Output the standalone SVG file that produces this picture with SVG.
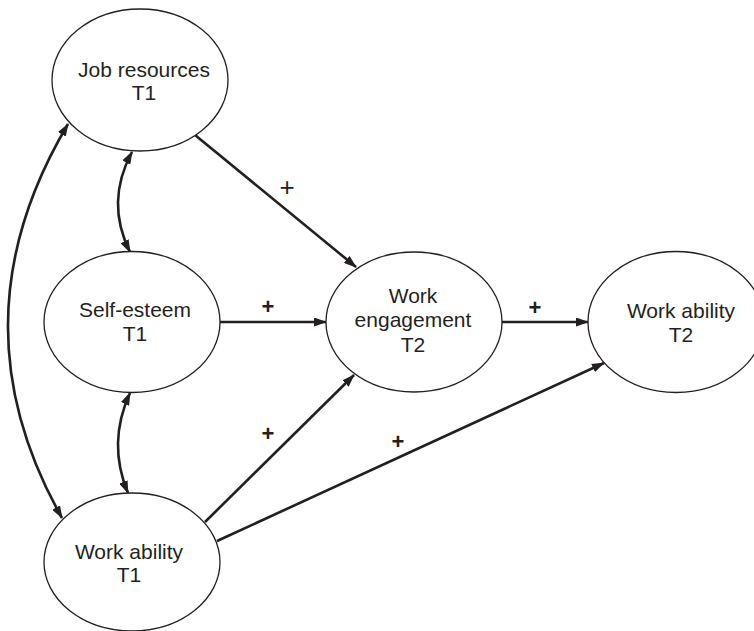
<svg xmlns="http://www.w3.org/2000/svg" width="754" height="631" viewBox="0 0 754 631">
<style>
.node ellipse{fill:#fff;stroke:#231f20;stroke-width:1.3}
.node text{font-family:"Liberation Sans",Arial,sans-serif;font-size:21px;fill:#231f20;text-anchor:middle}
.edge{fill:none;stroke:#231f20;stroke-width:2.6}
.lbl{font-family:"Liberation Sans",Arial,sans-serif;font-size:22px;fill:#231f20;text-anchor:middle;font-weight:bold}
</style>
<defs>
<marker id="ah" viewBox="0 0 13 9" refX="12" refY="4.5" markerWidth="13" markerHeight="9" markerUnits="userSpaceOnUse" orient="auto-start-reverse">
<path d="M0,0 L13,4.5 L0,9 z" fill="#231f20"/>
</marker>
</defs>
<g id="connectors">
<path class="edge" d="M195,135 L356,267" marker-end="url(#ah)"/>
<path class="edge" d="M220,322 L326,322" marker-end="url(#ah)"/>
<path class="edge" d="M502,322 L588,322" marker-end="url(#ah)"/>
<path class="edge" d="M205,522 L354,375" marker-end="url(#ah)"/>
<path class="edge" d="M217,541 L604,363" marker-end="url(#ah)"/>
<path class="edge" d="M132,152 Q105,202 130,252" marker-start="url(#ah)" marker-end="url(#ah)"/>
<path class="edge" d="M130,393 Q107,443 128,493" marker-start="url(#ah)" marker-end="url(#ah)"/>
<path class="edge" d="M68,124 Q-49,321 62,518" marker-start="url(#ah)" marker-end="url(#ah)"/>
<text class="lbl" x="287" y="196" style="font-weight:normal;font-size:26px">+</text>
<text class="lbl" x="268" y="314">+</text>
<text class="lbl" x="535" y="315">+</text>
<text class="lbl" x="268" y="441">+</text>
<text class="lbl" x="398" y="449">+</text>
</g>
<g id="job-resources" class="node">
<ellipse cx="140" cy="80" rx="88" ry="71"/>
<text x="144" y="77">Job resources</text>
<text x="144" y="100">T1</text>
</g>
<g id="self-esteem" class="node">
<ellipse cx="132" cy="322" rx="88" ry="70.5"/>
<text x="135" y="317">Self-esteem</text>
<text x="135" y="341">T1</text>
</g>
<g id="work-ability-t1" class="node">
<ellipse cx="132" cy="562" rx="88" ry="69"/>
<text x="129" y="559">Work ability</text>
<text x="129" y="582">T1</text>
</g>
<g id="work-engagement" class="node">
<ellipse cx="414" cy="322" rx="88" ry="70"/>
<text x="413" y="303">Work</text>
<text x="413" y="327">engagement</text>
<text x="413" y="352">T2</text>
</g>
<g id="work-ability-t2" class="node">
<ellipse cx="676" cy="322" rx="88" ry="70.5"/>
<text x="681" y="318">Work ability</text>
<text x="681" y="342">T2</text>
</g>
</svg>
